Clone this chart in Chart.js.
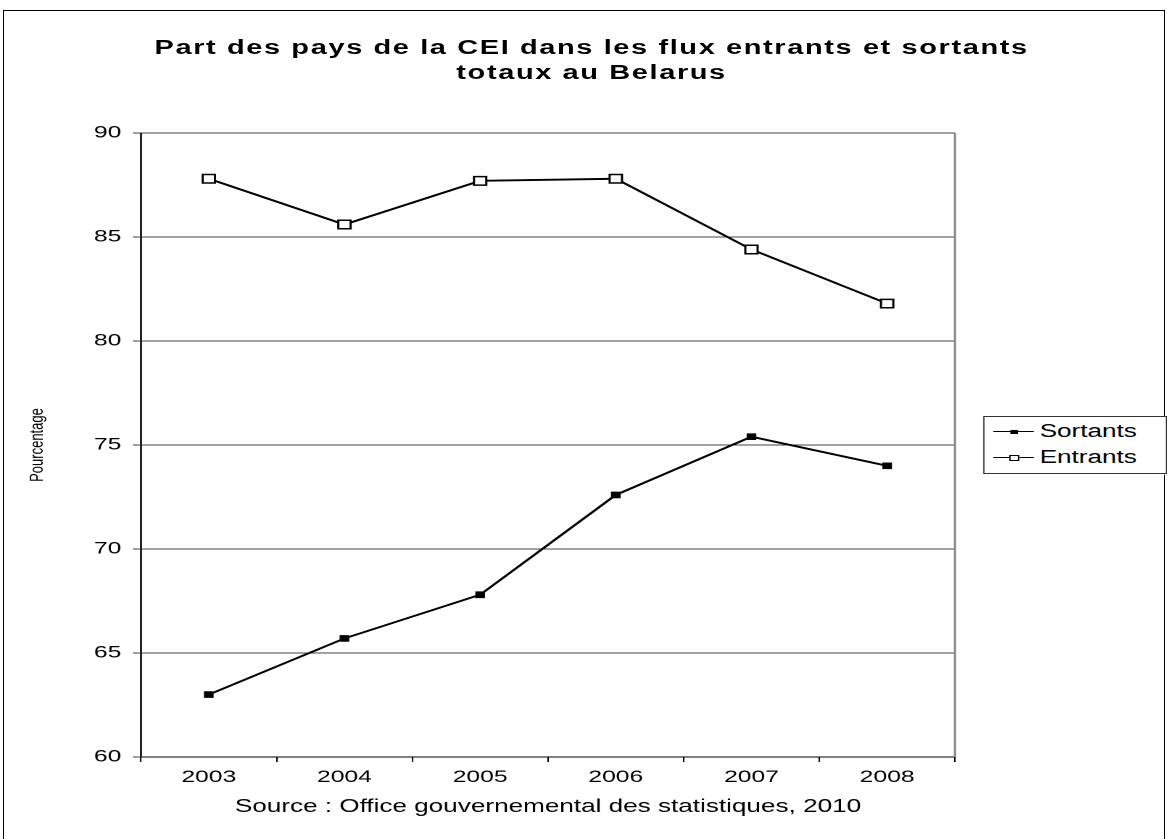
<!DOCTYPE html>
<html>
<head>
<meta charset="utf-8">
<script src="https://cdn.jsdelivr.net/npm/chart.js@4"></script>
<style>
    body { margin: 0; background: #fff; overflow: hidden; }
    .frame { position: absolute; left: 3px; top: 10px; width: 1160px; height: 900px; border: 1px solid #000; }
    /* the reference is horizontally stretched, so draw narrow and stretch */
    .stretch { position: absolute; left: 0; top: 0; width: 805px; height: 839px; transform: scaleX(1.45); transform-origin: 0 0; }
    .title { position: absolute; left: 408px; top: 35px; transform: translateX(-50%); white-space: nowrap; text-align: center;
             font: bold 20px "Liberation Sans", Arial, sans-serif; line-height: 25px; letter-spacing: 1.1px; color: #000; }
    .legend { position: absolute; left: 678px; top: 416px; width: 125px; height: 56px; border: 1px solid #333; background: #fff;
              font: 18px "Liberation Sans", Arial, sans-serif; color: #000; }
    .legend-row { position: absolute; left: 0; height: 26px; width: 100%; }
    .legend-line { position: absolute; left: 6px; width: 28px; top: 12px; border-top: 1.5px solid #000; }
    .legend-mark { position: absolute; box-sizing: border-box; }
    .legend-text { position: absolute; left: 38px; top: 2px; }
</style>
</head>
<body>
<div class="frame"></div>
<div class="stretch">
    <canvas id="chart"></canvas>
    <div class="title" id="title"></div>
    <div class="legend" id="legend"></div>
</div>
<script>
const titleLines = ['Part des pays de la CEI dans les flux entrants et sortants', 'totaux au Belarus'];
const years = ['2003', '2004', '2005', '2006', '2007', '2008'];
const sortants = [63.0, 65.7, 67.8, 72.6, 75.4, 74.0];
const entrants = [87.8, 85.6, 87.7, 87.8, 84.4, 81.8];
const yTitle = 'Pourcentage';
const xTitle = 'Source : Office gouvernemental des statistiques, 2010';

const font = { family: '"Liberation Sans", Arial, sans-serif', size: 17 };

// right edge of the plot area
const plotBorder = {
    id: 'plotBorder',
    afterDraw(chart) {
        const { ctx, chartArea } = chart;
        ctx.save();
        ctx.strokeStyle = '#888';
        ctx.lineWidth = 1.5;
        ctx.beginPath();
        ctx.moveTo(chartArea.right, chartArea.top);
        ctx.lineTo(chartArea.right, chartArea.bottom);
        ctx.stroke();
        ctx.restore();
    }
};

document.getElementById('title').innerHTML = titleLines.join('<br>');

const ctx = document.getElementById('chart').getContext('2d');
const chart = new Chart(ctx, {
    type: 'line',
    data: {
        labels: years,
        datasets: [{
            label: 'Sortants',
            data: sortants,
            borderColor: '#000',
            borderWidth: 1.9,
            pointStyle: 'rect',
            pointRadius: 4,
            pointBackgroundColor: '#000',
            pointBorderColor: '#000',
            pointBorderWidth: 1,
            tension: 0
        }, {
            label: 'Entrants',
            data: entrants,
            borderColor: '#000',
            borderWidth: 1.9,
            pointStyle: 'rect',
            pointRadius: 6,
            pointBackgroundColor: '#fff',
            pointBorderColor: '#000',
            pointBorderWidth: 1.5,
            tension: 0
        }]
    },
    options: {
        responsive: true,
        maintainAspectRatio: false,
        devicePixelRatio: 2,
        animation: false,
        events: [],
        layout: { padding: { top: 133, right: 146.4, bottom: 10, left: 18.3 } },
        plugins: {
            legend: { display: false },
            tooltip: { enabled: false }
        },
        scales: {
            x: {
                offset: true,
                grid: { offset: true, drawOnChartArea: false, drawTicks: true, tickLength: 5, color: '#000' },
                border: { color: '#000', width: 1 },
                ticks: { font, color: '#000', padding: 5, maxRotation: 0 },
                title: { display: true, text: xTitle, font: { family: font.family, size: 18 }, color: '#000', padding: { top: 0, bottom: 11 } },
                afterFit: (scale) => { scale.height = 72; }
            },
            y: {
                min: 60,
                max: 90,
                grid: { color: '#444', lineWidth: 1, drawTicks: true, tickLength: 5.5 },
                border: { color: '#222', width: 1.5 },
                ticks: { stepSize: 5, font, color: '#000', padding: 8 },
                title: { display: true, text: yTitle, font: { family: font.family, size: 13 }, color: '#000', padding: 0 },
                afterFit: (scale) => { scale.width = 78.9; }
            }
        }
    },
    plugins: [plotBorder]
});

// legend built from the chart's datasets
const legend = document.getElementById('legend');
chart.data.datasets.forEach((ds, i) => {
    const row = document.createElement('div');
    row.className = 'legend-row';
    row.style.top = (2 + i * 26) + 'px';
    const line = document.createElement('div');
    line.className = 'legend-line';
    const mark = document.createElement('div');
    mark.className = 'legend-mark';
    const size = i === 0 ? 5 : 7;
    mark.style.width = size + 'px';
    mark.style.height = (size - 1) + 'px';
    mark.style.left = (20 - size / 2) + 'px';
    mark.style.top = (12.5 - (size - 1) / 2) + 'px';
    mark.style.background = ds.pointBackgroundColor;
    mark.style.border = '1.5px solid #000';
    const text = document.createElement('div');
    text.className = 'legend-text';
    text.textContent = ds.label;
    row.append(line, mark, text);
    legend.appendChild(row);
});
</script>
</body>
</html>
